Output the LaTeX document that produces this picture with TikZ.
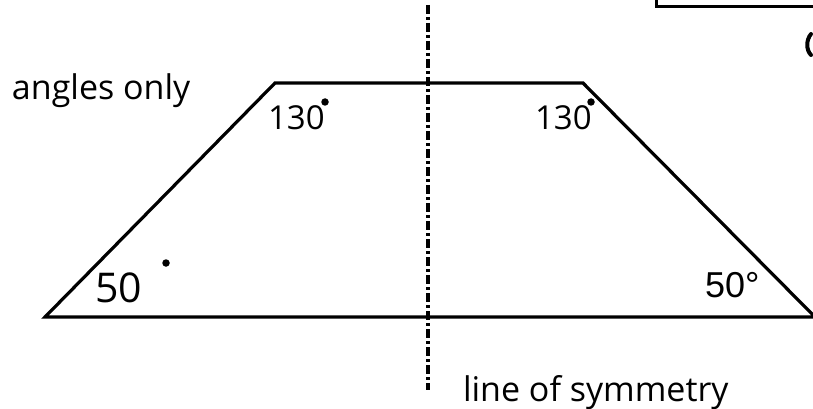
\documentclass[tikz,border=0pt]{standalone}
\usepackage{fontspec}
\newfontfamily\handfont{Open Sans}
\newfontfamily\arialfont{Liberation Sans}
\usepackage{tikz}
\usetikzlibrary{positioning}

\begin{document}
\begin{tikzpicture}[x=1pt,y=-1pt,
  every node/.style={inner sep=0pt,outer sep=0pt},
  note/.style={font=\handfont\fontsize{34}{38}\selectfont,anchor=base west},
  anglabel/.style={font=\handfont\fontsize{33}{36}\selectfont,anchor=base west},
  biglabel/.style={font=\handfont\fontsize{41}{44}\selectfont,anchor=base west},
  typelabel/.style={font=\arialfont\fontsize{36}{40}\selectfont,anchor=base west},
  degdot/.style={circle,fill=black,minimum size=7.5pt},
  edge/.style={line width=3.2pt},
  axis/.style={line width=4pt,dash pattern=on 9pt off 3pt on 3pt off 3pt}
]
\useasboundingbox (0,0) rectangle (813,409);
\clip (0,0) rectangle (813,409);

% trapezoid corners
\coordinate (bl) at (45,317);
\coordinate (br) at (815,317);
\coordinate (tr) at (583,83);
\coordinate (tl) at (275,83);
\draw[edge] (bl) -- (br) -- (tr) -- (tl) -- cycle;

% line of symmetry
\coordinate (axtop) at (428,5);
\coordinate (axbot) at (428,390);
\draw[axis] (axtop) -- (axbot);

% angle labels
\node[anglabel] (l130) at (268,129) {130};
\node[degdot] (l130dot) at (325,102) {};
\node[anglabel] (r130) at (535,129) {130};
\node[degdot] (r130dot) at (591,102) {};
\node[biglabel] (l50) at (95,302) {50};
\node[degdot] (l50dot) at (166,263) {};
\node[typelabel] (r50) at (705,297) {50°};

% notes
\node[note] (angles) at (12,100) {angles only};
\node[note] (symm) at (463,401) {line of symmetry};

% cut-off box and letter at the edge
\coordinate (boxa) at (656,-5);
\coordinate (boxb) at (656,7);
\coordinate (boxc) at (820,7);
\draw[line width=3pt] (boxa) -- (boxb) -- (boxc);
\coordinate (ua) at (811,34);
\coordinate (ub) at (811,55);
\draw[line width=4pt,line cap=round] (ua) .. controls (806,40) and (806,50) .. (ub);
\end{tikzpicture}
\end{document}
